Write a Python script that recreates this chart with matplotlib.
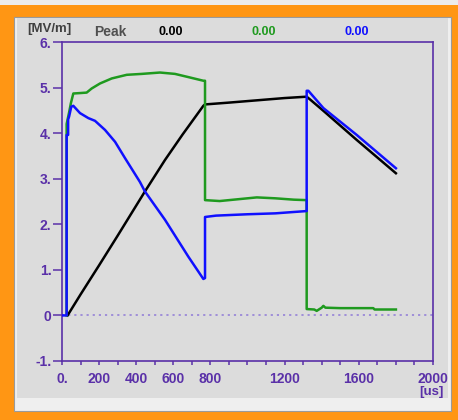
"""
  Campo de pico vs tempo (recriacao do grafico).
"""
import matplotlib
matplotlib.use('Agg')
import matplotlib.pyplot as plt
from matplotlib.patches import Rectangle

# Dados (tempo em us, campo em MV/m)
preto_t = [30, 100, 200, 300, 447, 555, 650, 762, 771, 900, 1050, 1200, 1319, 1337, 1409, 1589, 1800]
preto_v = [0.0, 0.46, 1.10, 1.75, 2.72, 3.41, 3.97, 4.60, 4.63, 4.67, 4.72, 4.77, 4.80, 4.74, 4.49, 3.85, 3.12]

verde_t = [25, 25, 38, 48, 61, 100, 133, 160, 205, 268, 349, 430, 528, 609, 681, 762, 771,
           771, 850, 950, 1050, 1150, 1250, 1319, 1319, 1360, 1373, 1400, 1409, 1420, 1500, 1678, 1685, 1800]
verde_v = [0.0, 4.20, 4.45, 4.66, 4.87, 4.88, 4.89, 4.98, 5.09, 5.20, 5.28, 5.30, 5.33, 5.30, 5.23, 5.15, 5.15,
           2.53, 2.51, 2.55, 2.59, 2.57, 2.54, 2.53, 0.14, 0.13, 0.10, 0.17, 0.21, 0.17, 0.16, 0.16, 0.13, 0.13]

azul_t = [0, 25, 25, 33, 33, 38, 50, 61, 97, 142, 178, 232, 286, 340, 420, 447, 555, 681, 762, 771,
          771, 830, 1000, 1150, 1250, 1319, 1319, 1328, 1409, 1589, 1800]
azul_v = [0.0, 0.0, 3.96, 3.96, 4.30, 4.36, 4.58, 4.60, 4.44, 4.33, 4.27, 4.07, 3.81, 3.45, 2.93, 2.72, 2.10, 1.29, 0.80, 0.82,
          2.16, 2.19, 2.22, 2.24, 2.27, 2.29, 4.93, 4.93, 4.55, 3.96, 3.23]

xticks = list(range(0, 2001, 100))
xrotulos = {0: '0.', 200: '200', 400: '400', 600: '600', 800: '800', 1200: '1200', 1600: '1600', 2000: '2000'}
yticks = [-1, 0, 1, 2, 3, 4, 5, 6]
yrotulos = ['-1.', '0', '1.', '2.', '3.', '4.', '5.', '6.']
picos = ['0.00', '0.00', '0.00']

# Cores
laranja = '#ff9614'
cinza = '#dcdcdc'
roxo = '#5a30a8'
cores = ['black', '#1f9a1f', '#1010ff']

plt.rcParams['font.family'] = ['Liberation Sans', 'DejaVu Sans']
plt.rcParams['font.weight'] = 'bold'

W, H = 458, 420
fig = plt.figure(figsize=(W/100, H/100), dpi=100)
fig.patch.set_facecolor(laranja)

def ret (x0, y0, x1, y1, **kw):
  # retangulo em pixels (origem no topo)
  fig.patches.append(Rectangle((x0/W, 1 - y1/H), (x1-x0)/W, (y1-y0)/H,
                               transform=fig.transFigure, zorder=-10, **kw))

ret(0, 0, W, 5, facecolor='#ececec', edgecolor='none')
ret(14, 17, 451, 411, facecolor='#efefef', edgecolor='#9a9a9a', linewidth=0.8)
ret(17, 18, 448, 398, facecolor=cinza, edgecolor='none')

# Eixos
ax = fig.add_axes([62/W, 1 - 361/H, 371/W, 319/H])
ax.set_facecolor(cinza)
ax.set_xlim(0, 2000)
ax.set_ylim(-1, 6)
for s in ax.spines.values():
  s.set_color(roxo)
  s.set_linewidth(1.2)

ax.axhline(0, color='#9a88d8', linestyle=(0, (1.2, 2.2)), linewidth=1.3, zorder=1)

ax.plot(preto_t, preto_v, color=cores[0], linewidth=1.8, zorder=3)
ax.plot(verde_t, verde_v, color=cores[1], linewidth=1.8, zorder=4)
ax.plot(azul_t, azul_v, color=cores[2], linewidth=1.8, zorder=5)

ax.set_xticks(xticks)
ax.set_xticklabels([xrotulos.get(t, '') for t in xticks])
ax.set_yticks(yticks)
ax.set_yticklabels(yrotulos)
ax.tick_params(axis='x', direction='out', length=3, width=1.1, color=roxo,
               labelcolor=roxo, labelsize=10, pad=5)
ax.tick_params(axis='y', direction='out', length=6.5, width=1.1, color=roxo,
               labelcolor=roxo, labelsize=10, pad=1)

# Cabecalho
fig.text(49/W, 1 - 29/H, '[MV/m]', color='#404040', fontsize=9.5, ha='center', va='center')
fig.text(110/W, 1 - 32/H, 'Peak', color='#505050', fontsize=10, ha='center', va='center')
for xp, txt, c in zip([171, 264, 357], picos, cores):
  fig.text(xp/W, 1 - 32/H, txt, color=c, fontsize=9, ha='center', va='center')
fig.text(431/W, 1 - 392/H, '[us]', color=roxo, fontsize=9.5, ha='center', va='center')

fig.savefig('out.png', dpi=100, facecolor=fig.get_facecolor())
